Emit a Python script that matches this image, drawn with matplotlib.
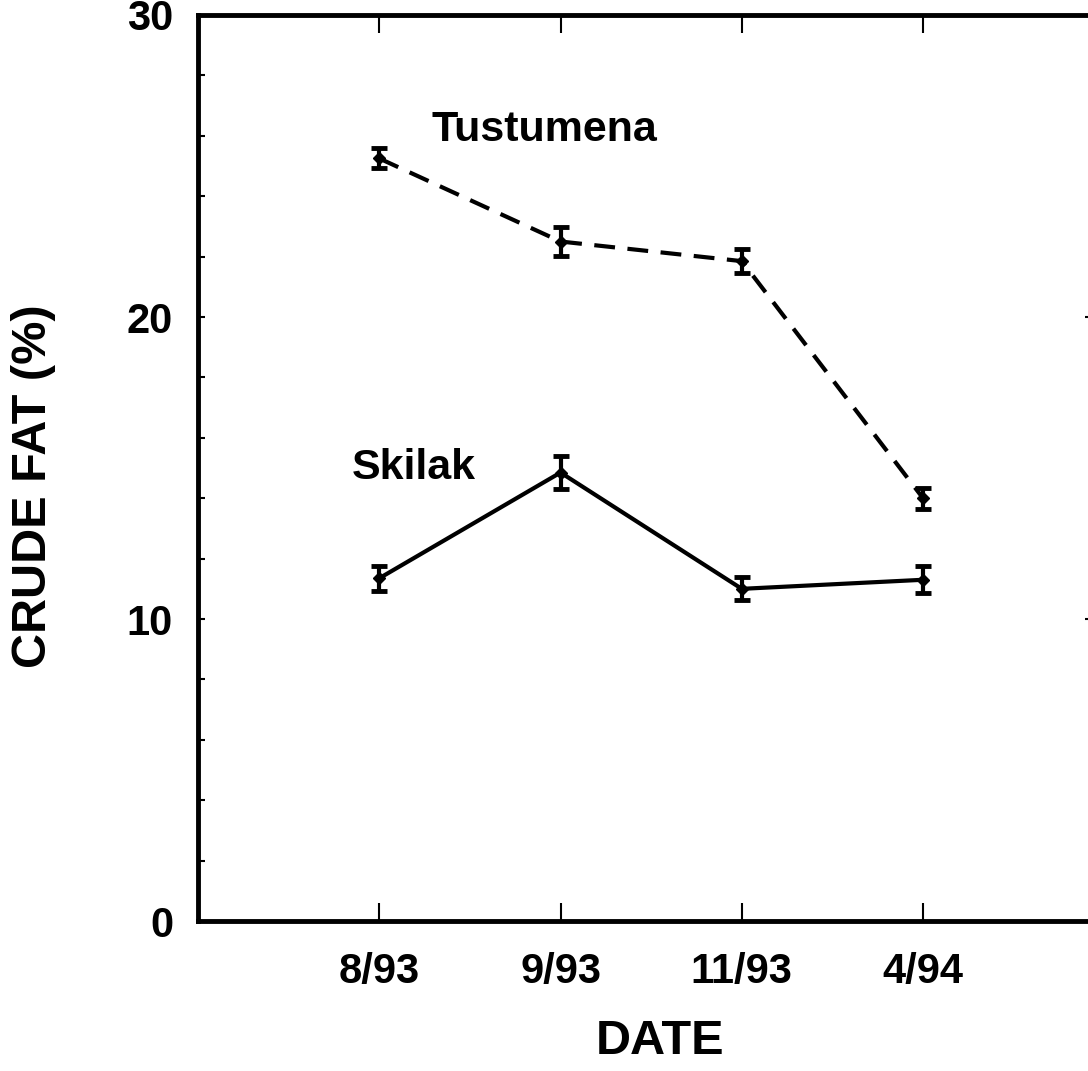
import matplotlib
matplotlib.use("Agg")
import matplotlib.pyplot as plt
import numpy as np

plt.rcParams['font.family'] = ['Liberation Sans', 'DejaVu Sans']
plt.rcParams['font.weight'] = 'bold'

dates = ["8/93", "9/93", "11/93", "4/94"]
tustumena = [25.25, 22.5, 21.85, 14.0]
tustumena_se = [0.33, 0.48, 0.40, 0.35]
skilak = [11.35, 14.85, 11.0, 11.3]
skilak_se = [0.41, 0.56, 0.38, 0.45]

x = np.arange(1, len(dates) + 1)

fig = plt.figure(figsize=(10.88, 10.71), dpi=100)
ax = fig.add_axes([0.182, 0.140, 0.833, 0.846])

common = dict(color='black', lw=3, marker='D', markersize=6,
              ecolor='black', elinewidth=3, capsize=6, capthick=3.5)
ax.errorbar(x, tustumena, yerr=tustumena_se, linestyle=(0, (5, 3)), **common)
ax.errorbar(x, skilak, yerr=skilak_se, linestyle='-', **common)

ax.text(1.29, 26.2, "Tustumena", fontsize=31, fontweight='bold', va='center', ha='left')
ax.text(0.85, 15.0, "Skilak", fontsize=31, fontweight='bold', va='center', ha='left')

ax.set_xlim(0, 5)
ax.set_ylim(0, 30)
ax.set_xticks(x)
ax.set_xticklabels(dates, fontsize=30, fontweight='bold')
ax.set_yticks([0, 10, 20, 30])
ax.set_yticklabels(["0", "10", "20", "30"], fontsize=30, fontweight='bold')
ax.set_yticks(np.arange(0, 31, 2), minor=True)

ax.tick_params(axis='x', which='major', direction='in', length=13, width=1.5,
               top=True, pad=22)
ax.tick_params(axis='y', which='both', direction='in', length=5, width=1.5,
               right=False, pad=18)

ax.set_xlabel("DATE", fontsize=35, fontweight='bold', va='top')
ax.xaxis.set_label_coords(0.51, -0.108)
ax.set_ylabel("CRUDE FAT (%)", fontsize=35, fontweight='bold', va='center')
ax.yaxis.set_label_coords(-0.182, 0.48)

for s in ax.spines.values():
    s.set_linewidth(3.5)

# Right-hand axis ticks at the major values only
ax2 = ax.twinx()
ax2.set_ylim(0, 30)
ax2.set_yticks([0, 10, 20, 30])
ax2.set_yticklabels([])
ax2.tick_params(axis='y', direction='in', length=14, width=1.5)
for s in ax2.spines.values():
    s.set_visible(False)

fig.savefig("out.png", dpi=100)
